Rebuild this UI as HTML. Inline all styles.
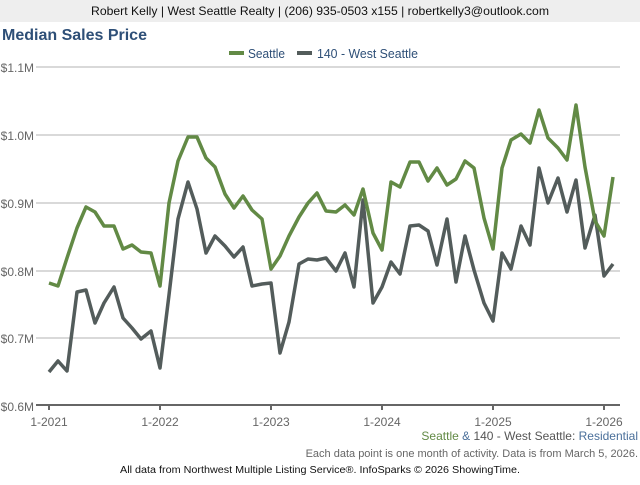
<!DOCTYPE html>
<html><head><meta charset="utf-8"><style>
body{margin:0;width:640px;height:480px;background:#fff;font-family:"Liberation Sans",sans-serif;overflow:hidden}
</style></head><body>
<svg width="640" height="480" xmlns="http://www.w3.org/2000/svg" font-family="Liberation Sans, sans-serif">
<rect x="0" y="0" width="640" height="22" fill="#eeeeee"/>
<text x="91" y="15" font-size="12" textLength="458" lengthAdjust="spacingAndGlyphs" fill="#111">Robert Kelly | West Seattle Realty | (206) 935-0503 x155 | robertkelly3@outlook.com</text>
<text x="2" y="40" font-size="16" font-weight="bold" fill="#2e4f77">Median Sales Price</text>
<rect x="229" y="51" width="15" height="4" fill="#628a45"/>
<text x="248" y="58" font-size="13" textLength="37" lengthAdjust="spacingAndGlyphs" fill="#2e4f77">Seattle</text>
<rect x="297" y="51" width="15" height="4" fill="#535c5b"/>
<text x="317" y="58" font-size="13" textLength="101" lengthAdjust="spacingAndGlyphs" fill="#2e4f77">140 - West Seattle</text>
<g stroke="#b3b3b3" stroke-width="1">
<line x1="36" y1="67" x2="620" y2="67"/><line x1="36" y1="135" x2="620" y2="135"/><line x1="36" y1="203" x2="620" y2="203"/><line x1="36" y1="271" x2="620" y2="271"/><line x1="36" y1="338" x2="620" y2="338"/>
</g>
<line x1="36" y1="405" x2="620" y2="405" stroke="#666" stroke-width="2"/>
<g stroke="#666" stroke-width="2">
<line x1="49" y1="405" x2="49" y2="410"/><line x1="160" y1="405" x2="160" y2="410"/><line x1="271" y1="405" x2="271" y2="410"/><line x1="382" y1="405" x2="382" y2="410"/><line x1="493" y1="405" x2="493" y2="410"/><line x1="604" y1="405" x2="604" y2="410"/>
</g>
<g font-size="12" fill="#666" text-anchor="end">
<text x="34" y="72">$1.1M</text><text x="34" y="140">$1.0M</text><text x="34" y="208">$0.9M</text><text x="34" y="276">$0.8M</text><text x="34" y="343">$0.7M</text><text x="34" y="411">$0.6M</text>
</g>
<g font-size="12" fill="#666" text-anchor="middle">
<text x="49" y="426">1-2021</text><text x="160" y="426">1-2022</text><text x="271" y="426">1-2023</text><text x="382" y="426">1-2024</text><text x="493" y="426">1-2025</text><text x="604" y="426">1-2026</text>
</g>
<polyline fill="none" stroke="#535c5b" stroke-width="3.5" stroke-linejoin="round" points="49,372 58,361 67,371 77,292 86,290 95,323 104,303 114,287 123,318 132,328 141,339 151,331 160,368 169,295 178,219 188,182 197,209 206,253 215,236 225,246 234,257 243,247 252,286 262,284 271,283 280,353 289,322 299,264 308,259 317,260 326,258 336,271 345,253 354,287 363,200 373,303 382,287 391,262 400,274 410,226 419,225 428,231 437,265 447,219 456,282 465,236 474,270 484,303 493,321 502,253 511,269 521,226 530,245 539,168 548,203 558,178 567,212 576,180 585,248 595,215 604,276 613,264"/>
<polyline fill="none" stroke="#628a45" stroke-width="3.5" stroke-linejoin="round" points="49,283 58,286 67,258 77,228 86,207 95,212 104,226 114,226 123,249 132,245 141,252 151,253 160,286 169,203 178,161 188,137 197,137 206,158 215,167 225,194 234,208 243,196 252,210 262,219 271,269 280,256 289,236 299,217 308,203 317,193 326,211 336,212 345,205 354,215 363,189 373,233 382,250 391,182 400,187 410,162 419,162 428,181 437,168 447,185 456,179 465,161 474,168 484,218 493,249 502,168 511,140 521,134 530,143 539,110 548,138 558,148 567,160 576,105 585,167 595,221 604,236 613,177"/>
<text x="638" y="440" font-size="12" text-anchor="end"><tspan fill="#628a45">Seattle</tspan><tspan fill="#4a6f9a"> &amp; </tspan><tspan fill="#555">140 - West Seattle: </tspan><tspan fill="#4a6f9a">Residential</tspan></text>
<text x="638" y="457" font-size="11" text-anchor="end" fill="#666">Each data point is one month of activity. Data is from March 5, 2026.</text>
<text x="120" y="473" font-size="10" textLength="400" lengthAdjust="spacingAndGlyphs" fill="#111">All data from Northwest Multiple Listing Service®. InfoSparks © 2026 ShowingTime.</text>
</svg>
</body></html>
